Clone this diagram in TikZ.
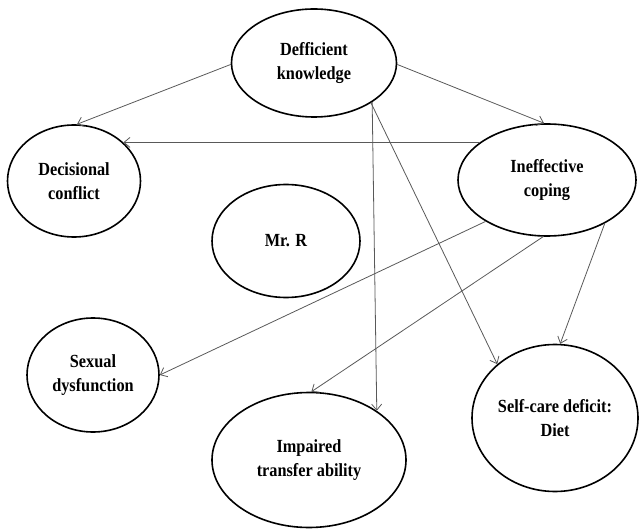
\documentclass[tikz,border=0pt]{standalone}
\usepackage{fontspec}
\setmainfont{Liberation Serif}[FakeStretch=0.88]
\usetikzlibrary{shapes.geometric}
\usetikzlibrary{arrows.meta}
\tikzset{dx/.style={ellipse,draw=black,line width=1.6pt,inner sep=0pt,align=center,
font=\fontsize{18.5}{24}\selectfont\bfseries},
link/.style={->,draw=black!65,line width=0.8pt},
>={Straight Barb[length=6pt,width=10pt]}}

\begin{document}
\begin{tikzpicture}[x=1pt,y=-1pt]
  \useasboundingbox (0,0) rectangle (639,529);
  \node (know) [dx,minimum width=165pt,minimum height=108pt] at (314,63) {Defficient\\knowledge};
  \node (decis) [dx,minimum width=133pt,minimum height=112pt] at (74,181) {Decisional\\conflict};
  \node (ineff) [dx,minimum width=178pt,minimum height=112pt] at (547,180) {Ineffective\\coping};
  \node (mrr) [dx,minimum width=148pt,minimum height=113pt] at (286,241) {Mr. R};
  \node (sexual) [dx,minimum width=132pt,minimum height=114pt] at (93,375) {Sexual\\dysfunction};
  \node (impair) [dx,minimum width=194pt,minimum height=135pt] at (309,460) {Impaired\\transfer ability};
  \node (selfcare) [dx,minimum width=166pt,minimum height=147pt] at (555,418) {Self-care deficit:\\Diet};
  % from deficient knowledge
  \draw [link] (know.181) -- (decis.87);
  \draw [link] (know.-1) -- (ineff.93);
  \draw [link] (know.-34) -- (impair.36);
  \draw [link] (know.-35) -- (selfcare.137);
  % from ineffective coping
  \draw [link] (ineff.151) -- (decis.38);
  \draw [link] (ineff.-146) -- (sexual.east);
  \draw [link] (ineff.-94) -- (impair.88);
  \draw [link] (ineff.-37) -- (selfcare.86);
\end{tikzpicture}
\end{document}
